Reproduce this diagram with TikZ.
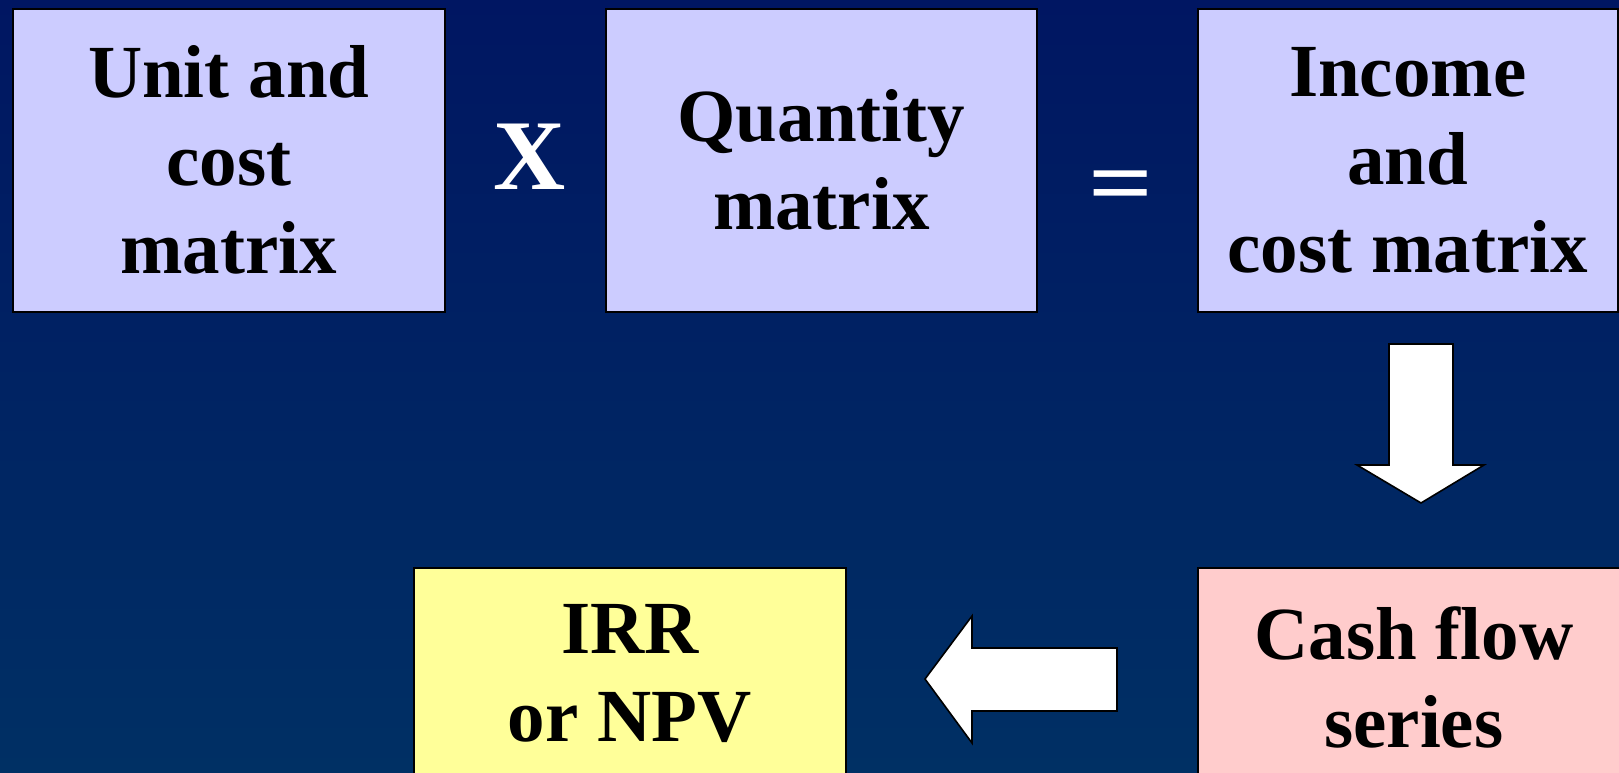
\documentclass[tikz,border=0pt]{standalone}
\usepackage{fontspec}
\setmainfont{Liberation Serif}
\definecolor{bgtop}{RGB}{0,22,98}
\definecolor{bgbot}{RGB}{0,48,100}
\definecolor{lav}{RGB}{204,204,255}
\definecolor{yel}{RGB}{255,255,153}
\definecolor{pinkbox}{RGB}{255,204,204}
\begin{document}
\begin{tikzpicture}[x=0.5pt,y=-0.5pt,
  box/.style={draw=black, line width=0.8pt, align=center, inner sep=0pt,
    anchor=north west, font=\fontsize{37.5}{44}\selectfont\bfseries},
  opsign/.style={text=white, inner sep=0pt, font=\fontsize{50}{50}\selectfont\bfseries},
  blockarrow/.style={fill=white, draw=black, line width=0.8pt, line join=miter}]
\useasboundingbox (0,0) rectangle (1619,772);
\shade[top color=bgtop, bottom color=bgbot] (0,0) rectangle (1619,772);
% top row
\node[box, fill=lav, minimum width=216pt, minimum height=151.5pt] (unit) at (12,8) {Unit and\\cost\\matrix};
\node[box, fill=lav, minimum width=215.5pt, minimum height=151.5pt] (qty) at (605,8) {Quantity\\matrix};
\node[box, fill=lav, minimum width=210pt, minimum height=151.5pt] (inc) at (1197,8) {Income\\and\\cost matrix};
\node[opsign] (times) at (530,157) {X};
\node[opsign, font=\fontsize{57}{57}\selectfont\bfseries] (eq) at (1121,193) {\scalebox{1}[0.82]{=}};
% bottom row
\node[box, fill=pinkbox, minimum width=216pt, minimum height=110pt] (cash) at (1197,567) {Cash flow\\series};
\node[box, fill=yel, minimum width=216pt, minimum height=106pt] (irr) at (413,567) {IRR\\or NPV};
% block arrows
\draw[blockarrow] (1389,344) -- (1453,344) -- (1453,465) -- (1484,465) -- (1421,503)
  -- (1357,465) -- (1389,465) -- cycle;
\draw[blockarrow] (1117,648) -- (1117,711) -- (972,711) -- (972,743) -- (925,679)
  -- (972,616) -- (972,648) -- cycle;
\end{tikzpicture}
\end{document}
